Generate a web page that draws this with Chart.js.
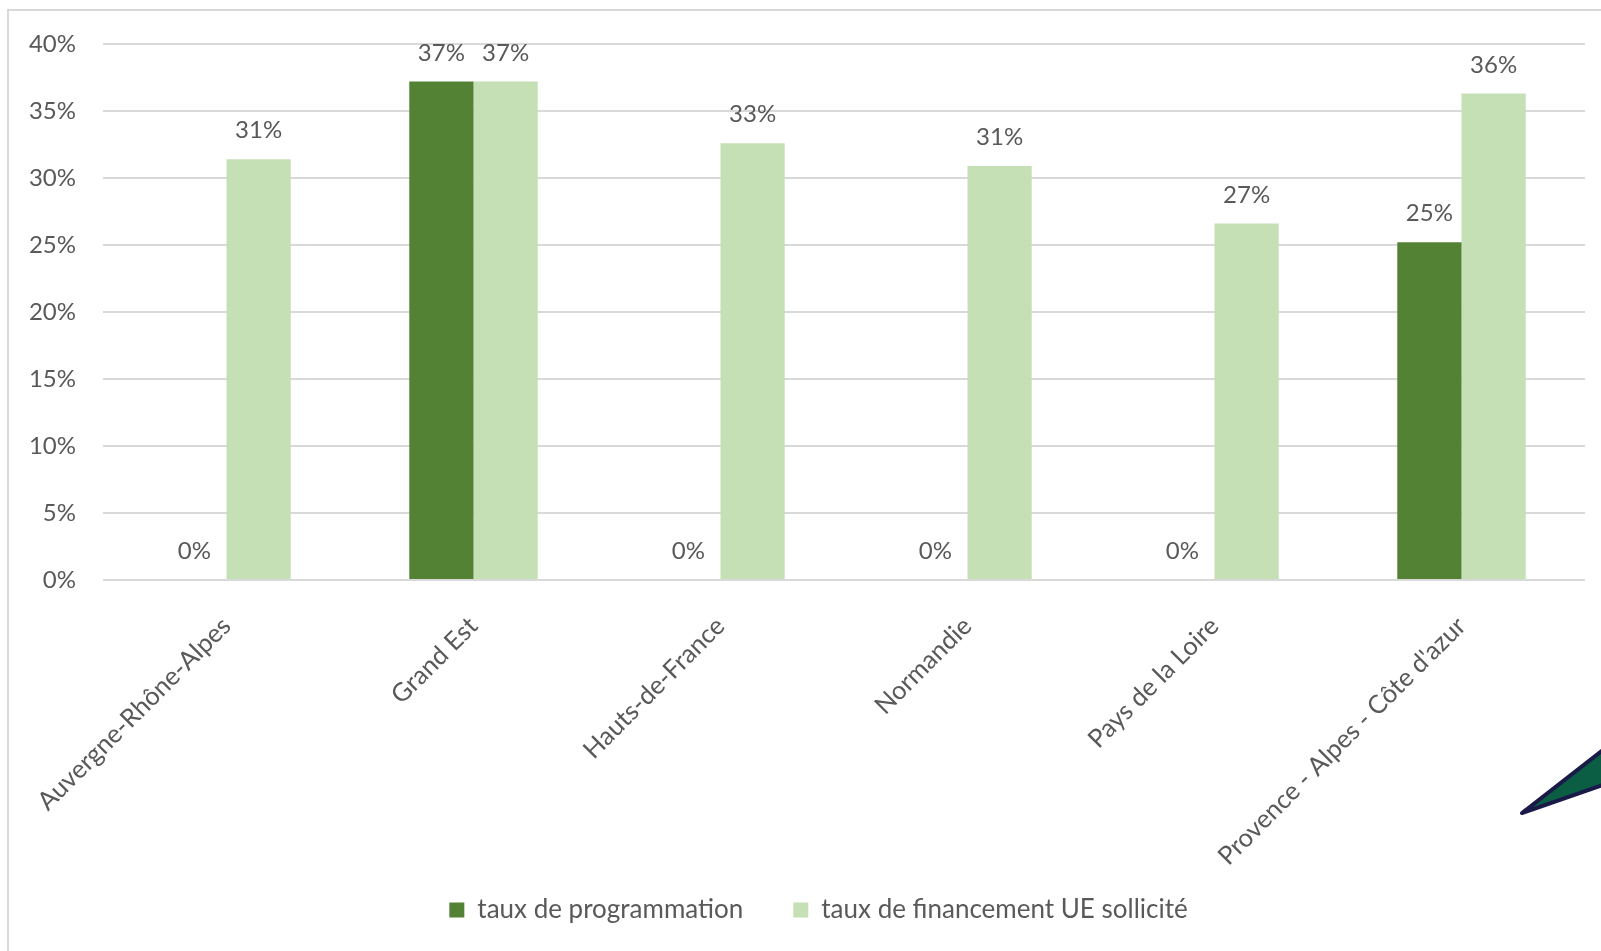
<!DOCTYPE html>
<html>
<head>
<meta charset="utf-8">
<script src="https://cdn.jsdelivr.net/npm/chart.js@4.4.0/dist/chart.umd.min.js"></script>
<style>
  body { margin: 0; background: #fff; width: 1601px; height: 951px; overflow: hidden; position: relative; }
  #frame { position: absolute; left: 7px; top: 9px; width: 1650px; height: 1000px; border: 2px solid #d9d9d9; box-sizing: border-box; }
  #wrap { position: absolute; left: 0; top: 0; width: 1601px; height: 951px; }
  #needle { position: absolute; left: 0; top: 0; }
</style>
</head>
<body>
<div id="frame"></div>
<div id="wrap"><canvas id="myChart" width="1601" height="951"></canvas></div>
<svg id="needle" width="1601" height="951">
  <polygon points="1522,813 1603,750 1603,785" fill="#0b5e44" stroke="#1a1a48" stroke-width="4" stroke-linejoin="round"/>
</svg>
<script>
// regions and values (%)
const regions = ['Auvergne-Rhône-Alpes', 'Grand Est', 'Hauts-de-France', 'Normandie', 'Pays de la Loire', "Provence - Alpes - Côte d'azur"];
const tauxProgrammation = [0, 37.2, 0, 0, 0, 25.2];
const tauxFinancement = [31.4, 37.2, 32.6, 30.9, 26.6, 36.3];
const yTicks = [0, 5, 10, 15, 20, 25, 30, 35, 40];

const grey = '#595959';
const fontFam = 'Lato, "Open Sans", sans-serif';

// labels above each bar, like the excel data labels
const barLabels = {
  id: 'barLabels',
  beforeDraw(chart) {
    // long rotated label goes past the axis box, don't clip it
    chart.scales.x._computeLabelArea = function() {};
    // legend sits a bit right of centre in the original
    chart.legend.left = 26;
    chart.legend.right = 1611;
  },
  afterDraw(chart) {
    const ctx = chart.ctx;
    ctx.save();
    ctx.font = '24px ' + fontFam;
    ctx.fillStyle = grey;
    ctx.textAlign = 'center';
    ctx.textBaseline = 'alphabetic';
    chart.data.datasets.forEach(function(ds, i) {
      chart.getDatasetMeta(i).data.forEach(function(bar, j) {
        ctx.fillText(Math.round(ds.data[j]) + '%', bar.x, bar.y - 21);
      });
    });
    ctx.restore();
  }
};

var ctx = document.getElementById('myChart').getContext('2d');
var chart = new Chart(ctx, {
  type: 'bar',
  data: {
    labels: regions,
    datasets: [{
      label: 'taux de programmation',
      data: tauxProgrammation,
      backgroundColor: '#548235'
    }, {
      label: 'taux de financement UE sollicité',
      data: tauxFinancement,
      backgroundColor: '#c5e0b4'
    }]
  },
  options: {
    responsive: false,
    animation: false,
    layout: { padding: { top: 44, right: 16, bottom: 18, left: 0 } },
    datasets: { bar: { categoryPercentage: 0.52, barPercentage: 1 } },
    scales: {
      x: {
        grid: { display: false },
        border: { display: false },
        ticks: {
          color: grey,
          font: { family: fontFam, size: 25.5 },
          minRotation: 45,
          maxRotation: 45,
          padding: 23
        },
        afterFit: function(scale) { scale.height = 267; }
      },
      y: {
        min: 0,
        max: 40,
        afterBuildTicks: function(scale) { scale.ticks = yTicks.map(v => ({ value: v })); },
        grid: { color: '#d9d9d9', lineWidth: 2, drawTicks: false },
        border: { display: false },
        ticks: {
          color: grey,
          font: { family: fontFam, size: 24 },
          padding: 27,
          callback: v => v + '%'
        },
        afterFit: function(scale) { scale.width = 103; }
      }
    },
    plugins: {
      legend: {
        position: 'bottom',
        labels: {
          color: grey,
          font: { family: fontFam, size: 26 },
          boxWidth: 15,
          boxHeight: 15,
          padding: 50
        }
      },
      tooltip: { enabled: false }
    }
  },
  plugins: [barLabels]
});
</script>
</body>
</html>
